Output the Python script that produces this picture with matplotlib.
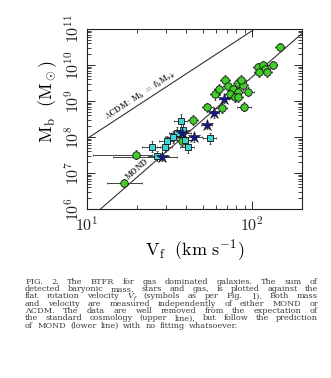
import numpy as np
import matplotlib
matplotlib.use("Agg")
import matplotlib.pyplot as plt
from matplotlib.ticker import LogLocator, FixedLocator, NullFormatter, FuncFormatter

plt.rcParams['mathtext.fontset'] = 'cm'
plt.rcParams['font.family'] = ['DejaVu Serif']

# ---------------- data ----------------
# gas-dominated galaxies, green circles
green_v = [16.7, 19.9, 43.7, 37.6, 53.6, 59.4, 65.3, 68.4, 71.3, 76.0, 73.3, 82.2, 88.3, 81.6,
           93.8, 78.5, 82.2, 89.6, 62.9, 108.7, 116.6, 119.4, 110.2, 122.2, 132.8, 147.3, 85.5]
green_m = [5.3e6, 3.2e7, 3.0e8, 7.9e7, 6.7e8, 1.55e9, 6.4e8, 3.8e9, 2.6e9, 2.1e9, 1.6e9, 3.1e9, 2.8e9, 1.8e9,
           1.8e9, 1.3e9, 1.26e9, 6.9e8, 2.1e9, 8.9e9, 1.0e10, 7.6e9, 6.4e9, 6.2e9, 1.0e10, 3.2e10, 3.8e9]
green_v_lo = [3.4, 9.0, 3.0, 2.6, 4.0, 4.2, 4.6, 5.0, 5.0, 5.5, 5.0, 6.0, 6.2, 5.7,
              8.0, 5.5, 5.8, 8.5, 4.4, 7.6, 8.2, 8.4, 7.7, 8.6, 9.3, 10.3, 6.0]
green_v_hi = [4.7, 4.8, 3.0, 2.6, 4.0, 4.2, 4.6, 5.0, 5.0, 5.5, 5.0, 6.0, 6.2, 5.7,
              8.0, 5.5, 5.8, 8.5, 4.4, 7.6, 8.2, 8.4, 7.7, 8.6, 9.3, 10.3, 6.0]
green_dex = [0.10, 0.12, 0.14, 0.14, 0.13, 0.15, 0.15, 0.13, 0.14, 0.13, 0.15, 0.14, 0.13, 0.14,
             0.13, 0.15, 0.14, 0.13, 0.15, 0.12, 0.12, 0.12, 0.13, 0.12, 0.12, 0.11, 0.14]

# cyan squares
cyan_v = [24.6, 26.4, 29.6, 30.4, 34.9, 36.9, 39.2, 40.7, 55.5, 33.3, 38.3]
cyan_m = [5.4e7, 2.9e7, 5.4e7, 7.6e7, 1.3e8, 2.7e8, 8.3e7, 5.4e7, 9.1e7, 1.0e8, 1.56e8]
cyan_v_lo = [3.0, 3.0, 3.0, 3.0, 3.5, 3.5, 4.0, 4.0, 5.0, 3.5, 3.5]
cyan_v_hi = [3.0, 5.0, 3.0, 3.0, 3.5, 3.5, 4.0, 4.0, 5.0, 3.5, 3.5]
cyan_dex = [0.15, 0.14, 0.16, 0.15, 0.15, 0.20, 0.18, 0.18, 0.16, 0.16, 0.16]

# dark blue stars
star_v = [28.6, 37.4, 44.6, 53.0, 58.6, 67.5]
star_m = [2.8e7, 1.3e8, 9.8e7, 2.15e8, 4.6e8, 1.15e9]
star_v_lo = [14.2, 5.0, 5.0, 4.0, 4.0, 5.0]
star_v_hi = [6.4, 5.0, 5.0, 4.0, 4.0, 5.0]
star_dex = [0.12, 0.13, 0.12, 0.12, 0.13, 0.12]

# model lines
mond_coef = 47.0      # Mb = A V^4 (Msun, km/s)
lcdm_coef = 9.0e4     # Mb = f_b Mvir ~ B V^3
line_v = [10.0, 200.0]

x_ticks = [10, 100]
y_ticks = [1e6, 1e7, 1e8, 1e9, 1e10, 1e11]

caption_lines = [
    "FIG. 2. The BTFR for gas dominated galaxies. The sum of",
    "detected baryonic mass, stars and gas, is plotted against the",
    "flat rotation velocity @Vf (symbols as per Fig. 1). Both mass",
    "and velocity are measured independently of either MOND or",
    "ΛCDM. The data are well removed from the expectation of",
    "the standard cosmology (upper line), but follow the prediction",
    "of MOND (lower line) with no fitting whatsoever.",
]

# ---------------- figure ----------------
W, H = 331, 378
fig = plt.figure(figsize=(W / 100, H / 100), dpi=100)
ax = fig.add_axes([87 / W, (H - 209) / H, 215 / W, 180 / H])
ax.set_xscale('log')
ax.set_yscale('log')
ax.set_xlim(10, 200)
ax.set_ylim(1e6, 1e11)

lv = np.array(line_v)
ax.plot(lv, mond_coef * lv ** 4, color='#333333', lw=0.8, zorder=1)
ax.plot(lv, lcdm_coef * lv ** 3, color='#333333', lw=0.8, zorder=1)


def draw(v, m, vlo, vhi, dex, marker, fc, ms, mew=0.6):
    v = np.array(v); m = np.array(m); dex = np.array(dex)
    yerr = [m - m * 10 ** (-dex), m * 10 ** dex - m]
    ax.errorbar(v, m, xerr=[vlo, vhi], yerr=yerr, fmt='none', ecolor='#444444',
                elinewidth=0.7, capsize=1.0, capthick=0.6, zorder=2)
    ax.plot(v, m, linestyle='none', marker=marker, markerfacecolor=fc,
            markeredgecolor='#111111', markeredgewidth=mew, markersize=ms, zorder=3)


draw(green_v, green_m, green_v_lo, green_v_hi, green_dex, 'o', '#44cc2a', 5.4)
draw(cyan_v, cyan_m, cyan_v_lo, cyan_v_hi, cyan_dex, 's', '#40d4d4', 5.0)
draw(star_v, star_m, star_v_lo, star_v_hi, star_dex, '*', '#16168f', 9.0, mew=0.4)

# axes styling
ax.xaxis.set_major_locator(FixedLocator(x_ticks))
ax.yaxis.set_major_locator(FixedLocator(y_ticks))
ax.xaxis.set_minor_locator(LogLocator(base=10, subs=np.arange(2, 10)))
ax.yaxis.set_minor_locator(LogLocator(base=10, subs=np.arange(2, 10), numticks=20))
ax.xaxis.set_minor_formatter(NullFormatter())
ax.yaxis.set_minor_formatter(NullFormatter())
fmt = FuncFormatter(lambda val, pos: r'$10^{%d}$' % int(round(np.log10(val))))
ax.xaxis.set_major_formatter(fmt)
ax.yaxis.set_major_formatter(fmt)
ax.tick_params(which='both', direction='in', top=True, right=True, colors='#222222')
ax.tick_params(which='major', length=6, width=0.7, labelsize=11.5)
ax.tick_params(which='minor', length=3, width=0.6)
ax.tick_params(axis='x', which='major', pad=5)
for lab in ax.get_yticklabels():
    lab.set_rotation(90)
    lab.set_va('center')
ax.tick_params(axis='y', which='major', pad=3)
for s in ax.spines.values():
    s.set_linewidth(0.8)
    s.set_color('#222222')

ax.set_xlabel(r'$\mathrm{V_f\ \ (km\ s^{-1})}$', fontsize=13, labelpad=2)
ax.set_ylabel(r'$\mathrm{M_b\ \ (M_\odot)}$', fontsize=13, labelpad=2)
ax.yaxis.set_label_coords(-0.13, 0.6)

# line labels rotated along the lines
def angle_of(coef, power):
    p1 = ax.transData.transform((15, coef * 15 ** power))
    p2 = ax.transData.transform((30, coef * 30 ** power))
    return np.degrees(np.arctan2(p2[1] - p1[1], p2[0] - p1[0]))

vl = 22.0
ax.text(vl, lcdm_coef * vl ** 3 * 1.08, r'$\mathbf{\Lambda CDM\!:\ M_b\ =\ f_b M_{vir}}$', fontsize=6.0,
        rotation=angle_of(lcdm_coef, 3), rotation_mode='anchor', ha='center', va='bottom',
        color='#222222')
vm = 21.0
ax.text(vm, mond_coef * vm ** 4 * 1.12, r'$\mathbf{MOND}$', fontsize=6.0,
        rotation=angle_of(mond_coef, 4), rotation_mode='anchor', ha='center', va='bottom',
        color='#222222')

# ---------------- caption (justified) ----------------
renderer = fig.canvas.get_renderer()
x_left, x_right = 25 / W, 318 / W
y_first = 281.5
y_step = 7.35
cap_fs = 5.9
cap_col = '#3c3c3c'


def make_word(w, y):
    """Create the text artists for one word; return list of (artist, dx) and width."""
    if w.startswith('@'):   # italic V with subscript f
        t1 = fig.text(0, y, 'V', fontsize=cap_fs, color=cap_col, va='baseline', ha='left', style='italic')
        w1 = t1.get_window_extent(renderer).width / fig.bbox.width
        t2 = fig.text(0, y - 1.5 / H, 'f', fontsize=cap_fs * 0.7, color=cap_col, va='baseline',
                      ha='left', style='italic')
        w2 = t2.get_window_extent(renderer).width / fig.bbox.width
        return [(t1, 0.0), (t2, w1)], w1 + w2
    t = fig.text(0, y, w, fontsize=cap_fs, color=cap_col, va='baseline', ha='left')
    return [(t, 0.0)], t.get_window_extent(renderer).width / fig.bbox.width


probe1 = fig.text(0, 0, 'a a', fontsize=cap_fs)
probe2 = fig.text(0, 0, 'aa', fontsize=cap_fs)
space_w = (probe1.get_window_extent(renderer).width - probe2.get_window_extent(renderer).width) / fig.bbox.width
probe1.remove(); probe2.remove()

for i, line in enumerate(caption_lines):
    y = 1 - (y_first + i * y_step + 2.2) / H
    words = line.split(' ')
    last = (i == len(caption_lines) - 1)
    parts = [make_word(w, y) for w in words]
    widths = [p[1] for p in parts]
    if last:
        gap = space_w * 1.6
    else:
        gap = (x_right - x_left - sum(widths)) / (len(words) - 1)
    x = x_left
    for (arts, wd) in parts:
        for art, dx in arts:
            art.set_x(x + dx)
        x += wd + gap

fig.savefig('out.png', dpi=100)
